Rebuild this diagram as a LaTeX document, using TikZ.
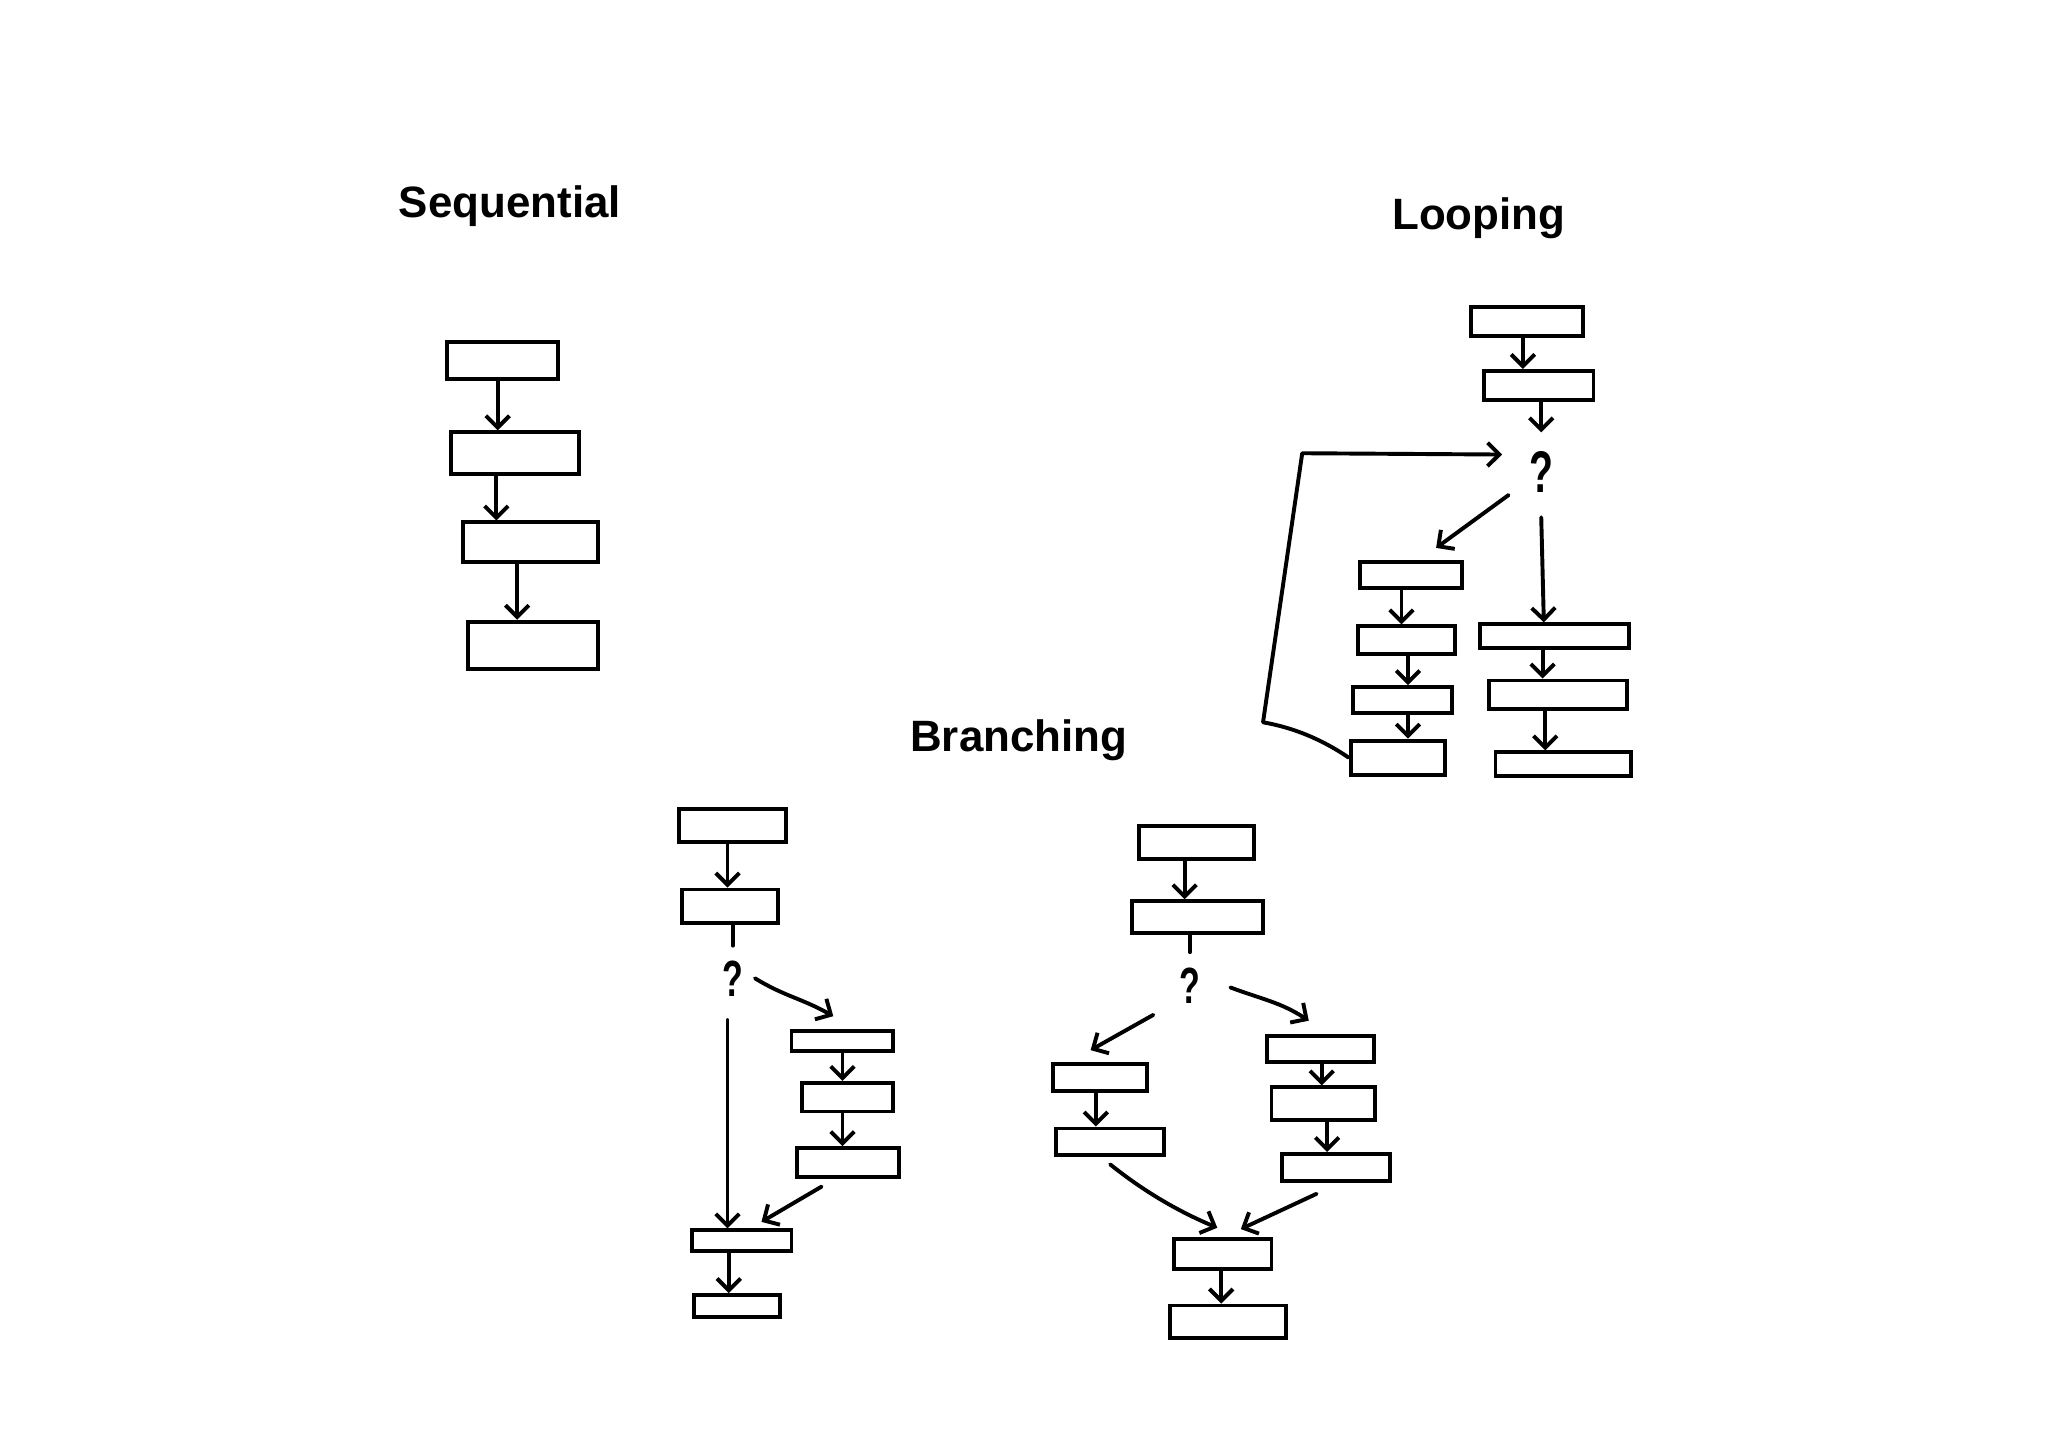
\documentclass[tikz,border=0pt]{standalone}
\usepackage{fontspec}
\setmainfont{Liberation Sans}
\usepackage{graphicx}
\usetikzlibrary{arrows.meta,calc}
\begin{document}
\begin{tikzpicture}[x=0.5pt,y=-0.5pt,
  box/.style={draw, rectangle, inner sep=0pt, line width=1.5pt},
  bx/.style n args={2}{minimum width=#1pt, minimum height=#2pt},
  ln/.style={line width=1.5pt, line cap=round, line join=round},
  arr/.style={ln, -{Straight Barb[length=4.5pt,width=9pt,line width=1.5pt]}},
  ttl/.style={anchor=base west, inner sep=0pt, font=\fontsize{16.8}{20}\selectfont\bfseries},
  qm/.style={inner sep=0pt, font=\fontsize{15}{15}\selectfont\bfseries},
  qs/.style={inner sep=0pt, font=\fontsize{13}{13}\selectfont\bfseries}]
\useasboundingbox (0,0) rectangle (1568,1108);
% titles
\node[ttl] (tseq) at (305,166.5) {Sequential};
\node[ttl] (tloop) at (1065.5,176) {Looping};
\node[ttl] (tbr) at (696.5,575.5) {Branching};
% ---------- Sequential ----------
\node[box,bx={42.5}{14}] (s1) at (385,276) {};
\node[box,bx={49}{16}] (s2) at (394,347) {};
\node[box,bx={51.5}{15}] (s3) at (406,415) {};
\node[box,bx={50}{18}] (s4) at (408,494) {};
\draw[arr] ($(s1.south)+(-4,0)$) -- ($(s2.north)+(-13,0)$);
\draw[arr] ($(s2.south)+(-14,0)$) -- ($(s3.north)+(-26,0)$);
\draw[arr] ($(s3.south)+(-10,0)$) -- ($(s4.north)+(-12,0)$);
% ---------- Looping ----------
\node[box,bx={43}{11}] (l1) at (1169,246) {};
\node[box,bx={42}{11}] (l2) at (1178,295) {};
\node[qm] (q1) at (1180,361) {\scalebox{1}[1.5]{?}};
\node[box,bx={39}{10}] (ll1) at (1080,440) {};
\node[box,bx={37}{10.5}] (ll2) at (1077,490) {};
\node[box,bx={38}{10}] (ll3) at (1074,536) {};
\node[box,bx={36}{13}] (ll4) at (1070,580) {};
\node[box,bx={57}{9}] (lr1) at (1190,487) {};
\node[box,bx={53}{11}] (lr2) at (1193,532) {};
\node[box,bx={52}{9}] (lr3) at (1197,585) {};
\coordinate (lpA) at (967,553);
\coordinate (lpB) at (997,347);
\draw[arr] ($(l1.south)+(-3,0)$) -- ($(l2.north)+(-12,0)$);
\draw[arr] ($(l2.south)+(2,0)$) -- ($(q1.center)+(0,-30)$);
\draw[arr] ($(q1.center)+(-25,18)$) -- ($(ll1.north east)+(-21,-9)$);
\draw[arr] ($(q1.center)+(0,35)$) -- ($(lr1.north)+(-8,0)$);
\draw[arr] (ll4.west) .. controls (1012,566) and (990,557) .. (lpA) -- (lpB) -- ($(q1.center)+(-30,-13)$);
\draw[arr] ($(ll1.south)+(-7,0)$) -- ($(ll2.north)+(-4,0)$);
\draw[arr] ($(ll2.south)+(1,0)$) -- ($(ll3.north)+(4,0)$);
\draw[arr] ($(ll3.south)+(4,0)$) -- ($(ll4.north)+(8,0)$);
\draw[arr] ($(lr1.south)+(-9,0)$) -- ($(lr2.north)+(-12,0)$);
\draw[arr] ($(lr2.south)+(-10,0)$) -- ($(lr3.north)+(-14,0)$);
% ---------- Branching (left) ----------
\node[box,bx={41}{12.5}] (a1) at (561,632) {};
\node[box,bx={36.5}{13}] (a2) at (559,694) {};
\node[qs] (q2) at (561,749) {\scalebox{1}[1.5]{?}};
\node[box,bx={39}{7.5}] (ar1) at (645,797) {};
\node[box,bx={35}{11}] (ar2) at (649,840) {};
\node[box,bx={39}{11}] (ar3) at (649,890) {};
\node[box,bx={38}{8}] (a3) at (568,950) {};
\node[box,bx={33}{8.5}] (a4) at (564,1000) {};
\draw[arr] ($(a1.south)+(-4,0)$) -- ($(a2.north)+(-2,0)$);
\draw[ln] ($(a2.south)+(2,0)$) -- ($(q2.center)+(0,-25)$);
\draw[arr] ($(q2.center)+(-4,32)$) -- ($(a3.north)+(-11,0)$);
\draw[arr] ($(q2.center)+(17,0)$) .. controls ($(q2.center)+(40,14)$) and ($(ar1.north)+(-32,-24)$) .. ($(ar1.north)+(-7,-10)$);
\draw[arr] ($(ar1.south)+(0,0)$) -- ($(ar2.north)+(-4,0)$);
\draw[arr] ($(ar2.south)+(-4,0)$) -- ($(ar3.north)+(-4,0)$);
\draw[arr] ($(ar3.south)+(-20,6)$) -- ($(a3.north)+(15,-5)$);
\draw[arr] ($(a3.south)+(-10,0)$) -- ($(a4.north)+(-6,0)$);
% ---------- Branching (right) ----------
\node[box,bx={44}{12.5}] (b1) at (916,645) {};
\node[box,bx={50}{12}] (b2) at (917,702) {};
\node[qs] (q3) at (911,755) {\scalebox{1}[1.5]{?}};
\node[box,bx={36}{10.5}] (bl1) at (842,825) {};
\node[box,bx={41.5}{10}] (bl2) at (850,874) {};
\node[box,bx={41}{10}] (br1) at (1011,803) {};
\node[box,bx={39.5}{12.5}] (br2) at (1013,845) {};
\node[box,bx={41.5}{10.5}] (br3) at (1023,894) {};
\node[box,bx={37.5}{11.5}] (b3) at (936,960) {};
\node[box,bx={44.5}{12.5}] (b4) at (940,1012) {};
\draw[arr] ($(b1.south)+(-9,0)$) -- ($(b2.north)+(-10,0)$);
\draw[ln] ($(b2.south)+(-6,0)$) -- ($(q3.center)+(0,-26)$);
\draw[arr] ($(q3.center)+(-28,22)$) -- ($(bl1.north)+(-7,-9)$);
\draw[arr] ($(q3.center)+(31,1)$) .. controls ($(q3.center)+(55,10)$) and ($(br1.north)+(-30,-24)$) .. ($(br1.north)+(-9,-10)$);
\draw[arr] ($(bl1.south)+(-3,0)$) -- ($(bl2.north)+(-11,0)$);
\draw[arr] ($(br1.south)+(1,0)$) -- ($(br2.north)+(-1,0)$);
\draw[arr] ($(br2.south)+(3,0)$) -- ($(br3.north)+(-7,0)$);
\draw[arr] ($(bl2.south)+(0,6)$) .. controls ($(bl2.south)+(25,26)$) and ($(b3.north)+(-35,-20)$) .. ($(b3.north)+(-4,-7)$);
\draw[arr] ($(br3.south)+(-15,8)$) -- ($(b3.north)+(14,-6)$);
\draw[arr] ($(b3.south)+(-1,0)$) -- ($(b4.north)+(-5,0)$);
\end{tikzpicture}
\end{document}
